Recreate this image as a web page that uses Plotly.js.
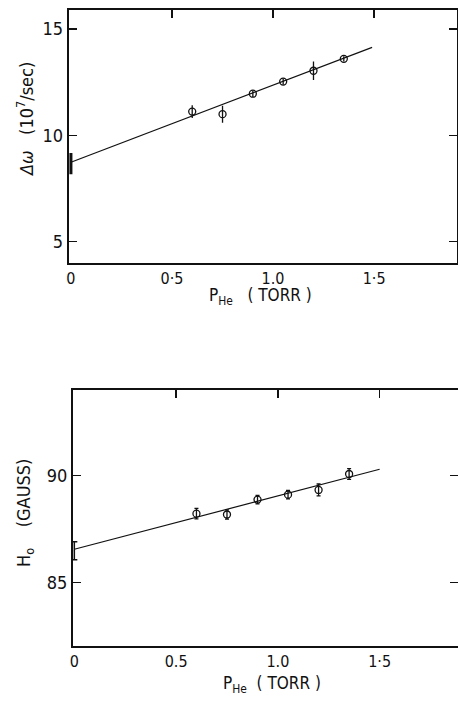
<!DOCTYPE html>
<html>
<head>
<meta charset="utf-8">
<script src="https://cdn.plot.ly/plotly-3.0.1.min.js"></script>
<style>html,body{margin:0;padding:0;background:#fff;}#chart{width:458px;height:702px;}</style>
</head>
<body>
<div id="chart"></div>
<script>
// ---- data ----
const pressure = [0.6, 0.75, 0.9, 1.05, 1.2, 1.35];          // P_He (torr)
const dOmega = [11.12, 11.0, 11.96, 12.53, 13.04, 13.6];      // Δω (10^7/sec)
const dOmegaErr = [0.3, 0.4, 0.15, 0.15, 0.43, 0.12];
const fitX1 = [0, 1.49];
const fitDOmega = [8.74, 14.14];
const interceptDOmega = [8.67];
const interceptDOmegaErr = [0.5];

const H0 = [88.22, 88.18, 88.88, 89.11, 89.33, 90.08];        // H0 (gauss)
const H0Err = [0.25, 0.22, 0.2, 0.2, 0.28, 0.25];
const fitX2 = [0, 1.5];
const fitH0 = [86.55, 90.3];
const interceptH0 = [86.48];
const interceptH0Err = [0.42];

const xTickVals = [0, 0.5, 1.0, 1.5];
const xTickText = ['0', '0·5', '1.0', '1·5'];
const xTickText2 = ['0', '0.5', '1.0', '1·5'];
const topTickVals = [0.5, 1.0, 1.5];
const yTicks1 = [5, 10, 15];
const yTicks2 = [85, 90];

const FONT = '"Liberation Sans Narrow", "DejaVu Sans Condensed", "Liberation Sans", sans-serif';
const ink = '#111';

const traces = [
  {x: fitX1, y: fitDOmega, mode: 'lines', line: {color: ink, width: 1.2}, xaxis: 'x', yaxis: 'y', cliponaxis: false},
  {x: pressure, y: dOmega, mode: 'markers', xaxis: 'x', yaxis: 'y',
   marker: {symbol: 'circle-open', size: 7, color: ink, line: {width: 1.3, color: ink}},
   error_y: {type: 'data', array: dOmegaErr, visible: true, color: ink, thickness: 1.3, width: 0}},
  {x: [0], y: interceptDOmega, mode: 'markers', xaxis: 'x', yaxis: 'y', cliponaxis: false,
   marker: {size: 1, color: ink},
   error_y: {type: 'data', array: interceptDOmegaErr, visible: true, color: ink, thickness: 3, width: 0}},
  // carrier (draws nothing) so that the top tick axis is laid out
  {x: fitX1, y: fitDOmega, mode: 'none', xaxis: 'x3', yaxis: 'y', hoverinfo: 'skip'},

  {x: fitX2, y: fitH0, mode: 'lines', line: {color: ink, width: 1.2}, xaxis: 'x2', yaxis: 'y2', cliponaxis: false},
  {x: pressure, y: H0, mode: 'markers', xaxis: 'x2', yaxis: 'y2',
   marker: {symbol: 'circle-open', size: 7, color: ink, line: {width: 1.3, color: ink}},
   error_y: {type: 'data', array: H0Err, visible: true, color: ink, thickness: 1.3, width: 2}},
  {x: [0], y: interceptH0, mode: 'markers', xaxis: 'x2', yaxis: 'y2', cliponaxis: false,
   marker: {size: 1, color: ink},
   error_y: {type: 'data', array: interceptH0Err, visible: true, color: ink, thickness: 1.5, width: 3}},
  {x: fitX2, y: fitH0, mode: 'none', xaxis: 'x4', yaxis: 'y2', hoverinfo: 'skip'}
];

const tickFont = {family: FONT, size: 16, color: ink};
const ytickFont = {family: FONT, size: 18, color: ink};

const layout = {
  width: 458, height: 702,
  margin: {l: 0, r: 0, t: 0, b: 0},
  paper_bgcolor: '#fff', plot_bgcolor: '#fff',
  showlegend: false,
  font: {family: FONT, color: ink},
  xaxis: {domain: [68.5/458, 457/458], anchor: 'y', range: [-0.012, 1.91],
    showgrid: false, zeroline: false, showline: true, linecolor: ink, linewidth: 1.8, mirror: true,
    ticks: '', tickmode: 'array', tickvals: xTickVals, ticktext: xTickText, tickfont: tickFont},
  xaxis3: {overlaying: 'x', anchor: 'y', side: 'top', range: [-0.012, 1.91],
    showgrid: false, zeroline: false, showline: false, ticks: 'inside', ticklen: 8, tickwidth: 1.5, tickcolor: ink,
    tickmode: 'array', tickvals: topTickVals, showticklabels: false},
  yaxis: {domain: [1 - 263/702, 1 - 9.5/702], anchor: 'x', range: [4.0, 15.92],
    showgrid: false, zeroline: false, showline: true, linecolor: ink, linewidth: 1.8, mirror: 'ticks',
    ticks: 'inside', ticklen: 8, tickwidth: 1.5, tickcolor: ink,
    tickmode: 'array', tickvals: yTicks1, tickfont: ytickFont},

  xaxis2: {domain: [72.7/458, 1], anchor: 'y2', range: [-0.008, 1.885],
    showgrid: false, zeroline: false, showline: true, linecolor: ink, linewidth: 1.8, mirror: true,
    ticks: '', tickmode: 'array', tickvals: xTickVals, ticktext: xTickText2, tickfont: tickFont},
  xaxis4: {overlaying: 'x2', anchor: 'y2', side: 'top', range: [-0.008, 1.885],
    showgrid: false, zeroline: false, showline: false, ticks: 'inside', ticklen: 8, tickwidth: 1.5, tickcolor: ink,
    tickmode: 'array', tickvals: topTickVals, showticklabels: false},
  yaxis2: {domain: [1 - 646/702, 1 - 390/702], anchor: 'x2', range: [82.01, 94.02],
    showgrid: false, zeroline: false, showline: true, linecolor: ink, linewidth: 1.8, mirror: 'ticks',
    ticks: 'inside', ticklen: 8, tickwidth: 1.5, tickcolor: ink,
    tickmode: 'array', tickvals: yTicks2, tickfont: ytickFont},

  annotations: [
    {xref: 'paper', yref: 'paper', x: 25/458, y: 1 - 120/702, xanchor: 'center', yanchor: 'middle',
     textangle: -90, showarrow: false,
     text: '<i>Δω</i>   (10<sup>7</sup>/sec)', font: {family: FONT, size: 18, color: ink}},
    {xref: 'paper', yref: 'paper', x: 260/458, y: 1 - 296/702, xanchor: 'center', yanchor: 'middle',
     showarrow: false,
     text: 'P<sub>He</sub>   ( TORR )', font: {family: FONT, size: 17, color: ink}},
    {xref: 'paper', yref: 'paper', x: 25/458, y: 1 - 513/702, xanchor: 'center', yanchor: 'middle',
     textangle: -90, showarrow: false,
     text: 'H<sub>o</sub>    (GAUSS)', font: {family: FONT, size: 18, color: ink}},
    {xref: 'paper', yref: 'paper', x: 272/458, y: 1 - 684/702, xanchor: 'center', yanchor: 'middle',
     showarrow: false,
     text: 'P<sub>He</sub>  ( TORR )', font: {family: FONT, size: 17, color: ink}}
  ]
};

Plotly.newPlot('chart', traces, layout, {staticPlot: true, displayModeBar: false});
</script>
</body>
</html>
